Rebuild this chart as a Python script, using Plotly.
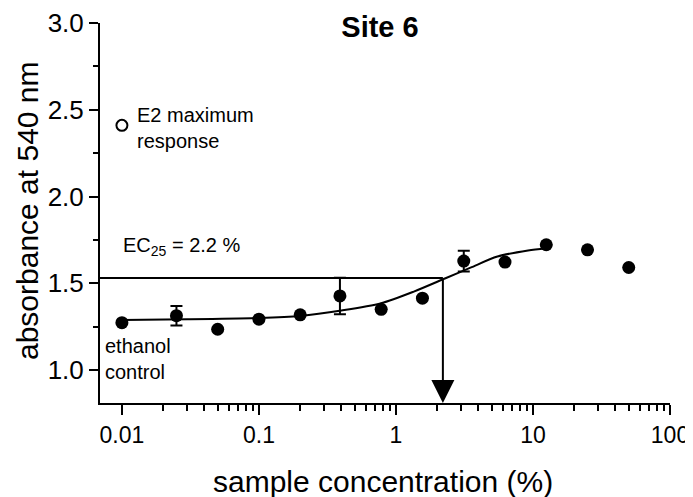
import math
import plotly.graph_objects as go

# ---- data ----
conc = [0.01, 0.025, 0.05, 0.1, 0.2, 0.39, 0.78, 1.56, 3.125, 6.25, 12.5, 25, 50]
absorb = [1.273, 1.313, 1.235, 1.293, 1.318, 1.427, 1.350, 1.414, 1.628, 1.622, 1.722, 1.693, 1.591]
err = [0, 0.056, 0, 0, 0, 0.105, 0, 0, 0.06, 0, 0, 0, 0]

fit_x = [0.01, 0.03, 0.1, 0.2, 0.4, 0.78, 1.35, 2.3, 3.5, 5.5, 9.2, 12.5]
fit_y = [1.288, 1.292, 1.300, 1.312, 1.343, 1.385, 1.452, 1.529, 1.590, 1.654, 1.689, 1.702]

e2_x = [0.01]
e2_y = [2.41]

ec25 = 2.2
ec25_level = 1.53

x_major = [0.01, 0.1, 1, 10, 100]
x_major_text = ["0.01", "0.1", "1", "10", "100"]
x_minor = [d * 10 ** e for e in range(-2, 2) for d in range(2, 10)]

y_range = [0.81, 3.0]
x_range_log = [-2.16, 2.0]

FONT = "Liberation Sans, Arial, Helvetica, sans-serif"

# the page body adds an 8 px offset; the figure is sized to compensate
W, H = 685, 489

fig = go.Figure()

# fitted curve
fig.add_trace(go.Scatter(
    x=fit_x, y=fit_y, mode="lines",
    line=dict(color="black", width=2, shape="spline", smoothing=0.8),
    showlegend=False, hoverinfo="skip"))

# EC25 horizontal line
fig.add_trace(go.Scatter(
    x=[10 ** (x_range_log[0] - 1), ec25], y=[ec25_level, ec25_level], mode="lines",
    line=dict(color="black", width=2), showlegend=False, hoverinfo="skip"))

# data points
fig.add_trace(go.Scatter(
    x=conc, y=absorb, mode="markers",
    marker=dict(symbol="circle", size=13, color="black"),
    error_y=dict(type="data", array=err, visible=True, color="black",
                 thickness=2, width=6),
    showlegend=False))

# E2 maximum response
fig.add_trace(go.Scatter(
    x=e2_x, y=e2_y, mode="markers",
    marker=dict(symbol="circle-open", size=11, color="black", line=dict(width=2)),
    showlegend=False))

lx0 = math.log10(0.01)
annotations = [
    # arrow from EC25 level down to the axis
    dict(x=math.log10(ec25), y=y_range[0], xref="x", yref="y",
         ax=math.log10(ec25), ay=ec25_level, axref="x", ayref="y",
         text="", showarrow=True, arrowhead=2, arrowsize=2.3, arrowwidth=2,
         arrowcolor="black", standoff=0),
    dict(x=lx0 + 0.095, y=2.393, xref="x", yref="y",
         text="E2 maximum<br>response", showarrow=False, xanchor="left",
         align="left", font=dict(family=FONT, size=20, color="black")),
    dict(x=lx0 - 0.01, y=1.71, xref="x", yref="y",
         text="EC<sub>25</sub> = 2.2 %", showarrow=False, xanchor="left",
         align="left", font=dict(family=FONT, size=20, color="black")),
    dict(x=lx0 - 0.135, y=1.064, xref="x", yref="y",
         text="ethanol<br>control", showarrow=False, xanchor="left",
         align="left", font=dict(family=FONT, size=20, color="black")),
    # axis titles
    dict(x=(383 - 100) / 570, y=(403 - 481) / 380, xref="paper", yref="paper",
         text="sample concentration (%)", showarrow=False,
         xanchor="center", yanchor="middle",
         font=dict(family=FONT, size=30, color="black")),
    dict(x=(27 - 100) / 570, y=(403 - 211) / 380, xref="paper", yref="paper",
         text="absorbance at 540 nm", showarrow=False, textangle=-90,
         xanchor="center", yanchor="middle",
         font=dict(family=FONT, size=30, color="black")),
]

fig.update_layout(
    width=W, height=H,
    margin=dict(l=92, r=23, t=15, b=94, autoexpand=False),
    paper_bgcolor="white", plot_bgcolor="white",
    font=dict(family=FONT, color="black"),
    title=dict(text="<b>Site 6</b>", x=372 / W, xanchor="center",
               y=1 - 19 / H, yanchor="middle",
               font=dict(family=FONT, size=29, color="black")),
    annotations=annotations,
    showlegend=False,
)

fig.update_xaxes(
    type="log", range=x_range_log, automargin=False,
    tickvals=x_major, ticktext=x_major_text,
    ticks="outside", ticklen=10, tickwidth=2, tickcolor="black",
    minor=dict(tickvals=x_minor, ticks="outside", ticklen=6, tickwidth=2, tickcolor="black"),
    showline=True, linecolor="black", linewidth=2,
    showgrid=False, zeroline=False,
    tickfont=dict(family=FONT, size=23, color="black"),
)

fig.update_yaxes(
    range=y_range, tick0=0, dtick=0.5, tickformat=".1f", automargin=False,
    ticks="outside", ticklen=9, tickwidth=2, tickcolor="black",
    minor=dict(dtick=0.25, tick0=0, ticks="outside", ticklen=5, tickwidth=2, tickcolor="black"),
    showline=True, linecolor="black", linewidth=2,
    showgrid=False, zeroline=False,
    tickfont=dict(family=FONT, size=26, color="black"),
)

fig.write_html("out.html")
